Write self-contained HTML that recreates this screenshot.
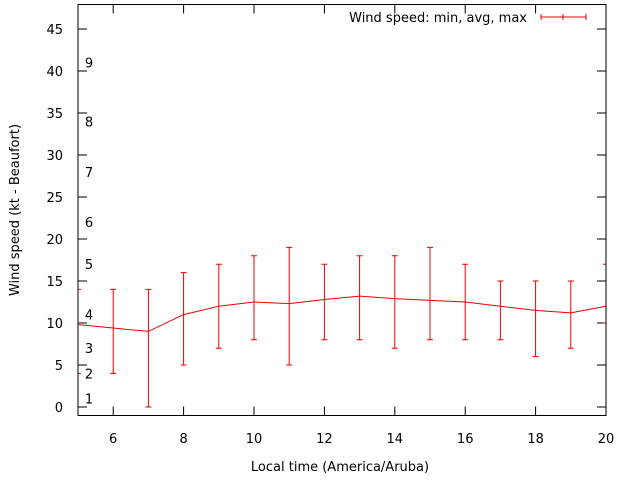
<!DOCTYPE html>
<html><head><meta charset="utf-8"><style>
body{margin:0;background:#fff}
text{font-family:"DejaVu Sans","Liberation Sans",sans-serif;font-size:13px;fill:#000}
</style></head><body>
<svg id="c" width="640" height="480" xmlns="http://www.w3.org/2000/svg">
<defs><clipPath id="pc"><rect x="78" y="4.5" width="528" height="411"/></clipPath></defs>
<g id="grid"></g>
<g id="series" clip-path="url(#pc)"></g>
<rect x="78" y="4.5" width="528" height="411" fill="none" stroke="#000" stroke-width="1"/>
<text x="527" y="22" text-anchor="end">Wind speed: min, avg, max</text>
<g stroke="#e00" stroke-width="1">
<line x1="541" y1="17" x2="586" y2="17"/><line x1="541" y1="14" x2="541" y2="20"/><line x1="586" y1="14" x2="586" y2="20"/><line x1="563" y1="14" x2="563" y2="20"/></g>
<text x="340" y="471" text-anchor="middle">Local time (America/Aruba)</text>
<text transform="translate(19,210) rotate(-90)" text-anchor="middle">Wind speed (kt - Beaufort)</text>
</svg>
<script>
const hours=[5,6,7,8,9,10,11,12,13,14,15,16,17,18,19,20];
const avgs=[9.8,9.4,9.0,11,12,12.5,12.3,12.8,13.2,12.9,12.7,12.5,12,11.5,11.2,12];
const mins=[4,4,0,5,7,8,5,8,8,7,8,8,8,6,7,10];
const maxs=[14,14,14,16,17,18,19,17,18,18,19,17,15,15,15,17];
const yTicks=[0,5,10,15,20,25,30,35,40,45];
const xTicks=[6,8,10,12,14,16,18,20];
const bft=[1,2,3,4,5,6,7,8,9];
const bftKt=[1,4,7,11,17,22,28,34,41];
const NS="http://www.w3.org/2000/svg";
const X=v=>78+(v-5)*35.2;
const Y=v=>407-v*8.4;
function mk(t,a,p){const e=document.createElementNS(NS,t);for(const k in a)e.setAttribute(k,a[k]);p.appendChild(e);return e;}
const g=document.getElementById('grid'),s=document.getElementById('series');
yTicks.forEach(v=>{
 const l=mk('path',{d:`M78 ${Y(v)}h9M606 ${Y(v)}h-9`,stroke:'#000'},g);
 
 
 const t=mk('text',{x:63,y:Y(v)+5,'text-anchor':'end'},g);t.textContent=v;
 
 
});
xTicks.forEach(v=>{
 const l=mk('path',{d:`M${X(v)} 415.5v-9M${X(v)} 4.5v9`,stroke:'#000'},g);
 
 
 const t=mk('text',{x:X(v),y:443,'text-anchor':'middle'},g);t.textContent=v;
 
 
});
bft.forEach((b,i)=>{
 const t=mk('text',{x:89,y:Y(bftKt[i])+5,'text-anchor':'middle'},g);t.textContent=b;
 
 
});
hours.forEach((h,i)=>{
 const x=X(h);
 const e=mk('path',{d:`M${x} ${Y(mins[i])}V${Y(maxs[i])}M${x-3} ${Y(mins[i])}h6M${x-3} ${Y(maxs[i])}h6`,stroke:'#e00',fill:'none'},s);
 
 
});
const ln=mk('polyline',{points:hours.map((h,i)=>X(h)+','+Y(avgs[i])).join(' '),stroke:'#e00',fill:'none'},s);


</script>
</body></html>
